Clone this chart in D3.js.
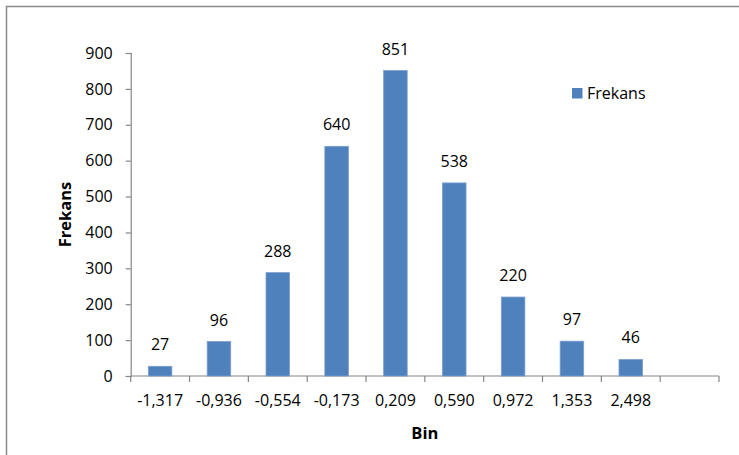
<!DOCTYPE html>
<html>
<head>
<meta charset="utf-8">
<script src="https://cdn.jsdelivr.net/npm/d3@7"></script>
<style>
  html, body { margin: 0; padding: 0; background: #fff; }
  svg { display: block; font-family: "Open Sans", sans-serif; }
</style>
</head>
<body>
<svg id="chart" width="739" height="455"></svg>
<script>
// Bin labels (the last slot is left empty on the category axis)
const bins = ["-1,317", "-0,936", "-0,554", "-0,173", "0,209", "0,590", "0,972", "1,353", "2,498", ""];
const frekans = [27, 96, 288, 640, 851, 538, 220, 97, 46];
const yTicks = [0, 100, 200, 300, 400, 500, 600, 700, 800, 900];
const seriesName = "Frekans";

const svg = d3.select("#chart");
const plot = { left: 130.7, right: 719, top: 53, bottom: 376 };
const barColor = "#4F81BD";
const axisColor = "#868686";
const labelSize = "16px";

// Outer chart frame (extends past the right and bottom edges)
svg.append("rect")
  .attr("x", 6.5).attr("y", 6.5)
  .attr("width", 800).attr("height", 500)
  .attr("fill", "#fff")
  .attr("stroke", "#8a8a8a")
  .attr("stroke-width", 1.5);

const x = d3.scaleBand()
  .domain(d3.range(bins.length))
  .range([plot.left, plot.right])
  .paddingInner(0.6)
  .paddingOuter(0.3);

const y = d3.scaleLinear()
  .domain([0, 900])
  .range([plot.bottom, plot.top]);

const step = x.step();

// Y axis
const yAxis = svg.append("g")
  .attr("transform", `translate(${plot.left},0)`)
  .call(d3.axisLeft(y).tickValues(yTicks).tickSize(5).tickPadding(13).tickFormat(d3.format("d")));
yAxis.select(".domain").attr("stroke", axisColor).attr("stroke-width", 1.2);
yAxis.selectAll(".tick line").attr("stroke", axisColor).attr("stroke-width", 1.2);
yAxis.selectAll(".tick text")
  .attr("fill", "#000")
  .style("font-size", labelSize)
  .style("font-family", "'Open Sans', sans-serif");

// X axis line and category boundary ticks
const xg = svg.append("g");
xg.append("line")
  .attr("x1", plot.left).attr("x2", plot.right)
  .attr("y1", y(0)).attr("y2", y(0))
  .attr("stroke", axisColor).attr("stroke-width", 1.2);
const boundaries = d3.range(bins.length + 1).map(i => x.range()[0] + i * step);
xg.selectAll("line.tk").data(boundaries).join("line")
  .attr("class", "tk")
  .attr("x1", d => d).attr("x2", d => d)
  .attr("y1", y(0)).attr("y2", y(0) + 6)
  .attr("stroke", axisColor).attr("stroke-width", 1.2);
xg.selectAll("text.cat").data(bins).join("text")
  .attr("class", "cat")
  .attr("x", (d, i) => x(i) + x.bandwidth() / 2)
  .attr("y", y(0) + 30)
  .attr("text-anchor", "middle")
  .attr("fill", "#000")
  .style("font-size", labelSize)
  .text(d => d);

// Bars
svg.append("g").selectAll("rect").data(frekans).join("rect")
  .attr("x", (d, i) => x(i))
  .attr("width", x.bandwidth())
  .attr("y", d => y(d))
  .attr("height", d => y(0) - y(d))
  .attr("fill", barColor)
  .attr("stroke", "#7a9dcf")
  .attr("stroke-width", 0.8);

// Value labels
svg.append("g").selectAll("text").data(frekans).join("text")
  .attr("x", (d, i) => x(i) + x.bandwidth() / 2)
  .attr("y", d => y(d) - 16)
  .attr("text-anchor", "middle")
  .attr("fill", "#000")
  .style("font-size", labelSize)
  .text(d => d);

// Axis titles
svg.append("text")
  .attr("x", (plot.left + plot.right) / 2)
  .attr("y", 439)
  .attr("text-anchor", "middle")
  .attr("font-weight", "bold")
  .style("font-size", "16.5px")
  .text("Bin");
svg.append("text")
  .attr("transform", `translate(71,${(plot.top + plot.bottom) / 2}) rotate(-90)`)
  .attr("text-anchor", "middle")
  .attr("font-weight", "bold")
  .style("font-size", "16.5px")
  .text(seriesName);

// Legend
const lg = svg.append("g").attr("transform", "translate(572,88)");
lg.append("rect").attr("width", 10.5).attr("height", 10.5).attr("fill", barColor);
lg.append("text")
  .attr("x", 15).attr("y", 5.5)
  .attr("dy", "0.35em")
  .attr("fill", "#000")
  .style("font-size", labelSize)
  .text(seriesName);
</script>
</body>
</html>
